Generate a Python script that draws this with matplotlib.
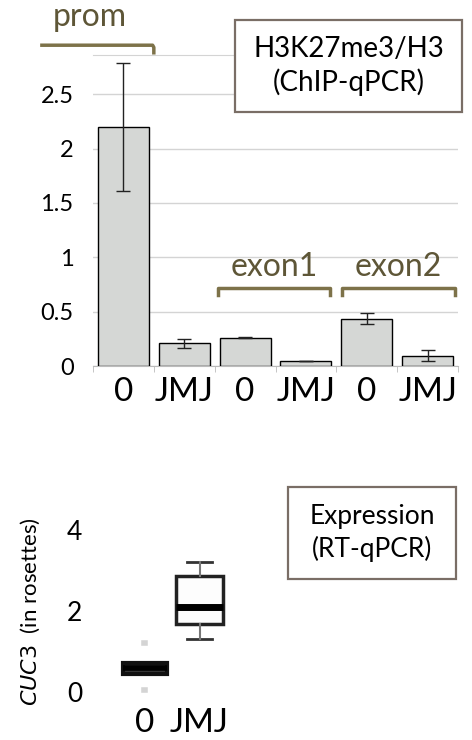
import matplotlib
matplotlib.use("Agg")
import matplotlib.pyplot as plt
from matplotlib.patches import Rectangle

plt.rcParams['font.family'] = ['Lato', 'DejaVu Sans']

# ChIP-qPCR bars
chip_labels = ["0", "JMJ", "0", "JMJ", "0", "JMJ"]
chip_values = [2.20, 0.21, 0.26, 0.045, 0.435, 0.095]
chip_errors = [0.59, 0.04, 0.005, 0.003, 0.048, 0.048]
regions = ["prom", "exon1", "exon2"]

# RT-qPCR boxes
expr_labels = ["0", "JMJ"]
expr_med = [0.60, 2.10]
expr_q1 = [0.45, 1.67]
expr_q3 = [0.72, 2.87]
expr_lo = [0.05, 1.32]
expr_hi = [1.22, 3.22]

W, H = 472, 740
fig = plt.figure(figsize=(W / 100, H / 100), dpi=100)

def px_axes(x0, y0, x1, y1):
    return fig.add_axes([x0 / W, 1 - y1 / H, (x1 - x0) / W, (y1 - y0) / H])

# ---- top chart
ax = px_axes(93, 55, 458, 366)
x = range(len(chip_values))
ax.bar(x, chip_values, width=0.84, color="#d5d7d5", edgecolor="black", linewidth=1.0, zorder=3)
ax.errorbar(x, chip_values, yerr=chip_errors, fmt="none", ecolor="#222222", elinewidth=1.0,
            capsize=5, capthick=1.0, zorder=4)
ax.set_xlim(-0.5, 5.5)
ax.set_ylim(0, 2.86)
ax.set_yticks([0, 0.5, 1, 1.5, 2, 2.5])
ax.set_yticklabels(["0", "0.5", "1", "1.5", "2", "2.5"], fontsize=17)
ax.yaxis.grid(True, color="#d4d4d4", linewidth=1.0, zorder=0)
ax.set_xticks(x)
ax.set_xticklabels(chip_labels, fontsize=24)
ax.set_xticks([i - 0.5 for i in range(7)], minor=True)
ax.tick_params(axis="x", which="major", length=0, pad=8)
ax.tick_params(axis="x", which="minor", length=4, color="#bbbbbb")
ax.tick_params(axis="y", length=0, pad=14)
for s in ["left", "right"]:
    ax.spines[s].set_visible(False)
ax.spines["top"].set_color("#d4d4d4")
ax.spines["bottom"].set_color("#bbbbbb")
ax.set_axisbelow(True)

# region brackets
bcol = "#7d7249"
tcol = "#5e5637"
ax.plot([-1.34, 0.48, 0.50, 0.50], [2.95, 2.95, 2.93, 2.88], color=bcol, lw=2.5, clip_on=False)
ax.text(-0.55, 3.21, regions[0], ha="center", va="center", fontsize=23, color=tcol)
for (a, b), name in zip([(1.56, 3.40), (3.59, 5.45)], regions[1:]):
    ax.plot([a, a, b, b], [0.65, 0.715, 0.715, 0.65], color=bcol, lw=2.5, clip_on=False)
    ax.text((a + b) / 2, 0.91, name, ha="center", va="center", fontsize=23, color=tcol)

# ---- bottom chart
bx = px_axes(117, 515, 227, 700)
stats = []
for i in range(2):
    stats.append(dict(med=expr_med[i], q1=expr_q1[i], q3=expr_q3[i],
                      whislo=expr_lo[i], whishi=expr_hi[i], fliers=[]))
bp = bx.bxp(stats, positions=[0, 1], widths=[0.8, 0.87], patch_artist=True,
            capwidths=[0.03, 0.45])
bp["boxes"][0].set(facecolor="#3a3a3a", edgecolor="#111111", linewidth=3)
bp["boxes"][1].set(facecolor="#fdfdfd", edgecolor="#222222", linewidth=2.5)
bp["medians"][0].set(color="#000000", linewidth=4)
bp["medians"][1].set(color="#000000", linewidth=5)
for w in bp["whiskers"][:2]:
    w.set(visible=False)
for c in bp["caps"][:2]:
    c.set(color="#d4d4d4", linewidth=4)
for w in bp["whiskers"][2:]:
    w.set(color="#777777", linewidth=1.5, zorder=3)
for c in bp["caps"][2:]:
    c.set(color="#333333", linewidth=2)
bx.set_xlim(-0.5, 1.5)
bx.set_ylim(-0.2, 4.375)
bx.set_yticks([0, 2, 4])
bx.set_yticklabels(["0", "2", "4"], fontsize=19)
bx.set_xticks([0, 1])
bx.set_xticklabels(expr_labels, fontsize=24)
bx.tick_params(axis="both", length=0)
bx.tick_params(axis="y", pad=25)
bx.tick_params(axis="x", pad=6)
for s in bx.spines.values():
    s.set_visible(False)
fig.text(30 / W, 1 - 612 / H, r"$\it{CUC3}$  (in rosettes)", rotation=90,
         ha="center", va="center", fontsize=16)

# ---- label boxes
def label_box(x0, y0, x1, y1, lines, size):
    fig.patches.append(Rectangle((x0 / W, 1 - y1 / H), (x1 - x0) / W, (y1 - y0) / H,
                                 transform=fig.transFigure, facecolor="white",
                                 edgecolor="#7a6e66", linewidth=1.6, zorder=5))
    fig.text((x0 + x1) / 2 / W, 1 - (y0 + y1) / 2 / H, lines, ha="center", va="center",
             fontsize=size, linespacing=1.3, zorder=6)

label_box(235, 20, 462, 112, "H3K27me3/H3\n(ChIP-qPCR)", 20)
label_box(288, 487, 456, 579, "Expression\n(RT-qPCR)", 19)

fig.savefig("out.png", dpi=100)
